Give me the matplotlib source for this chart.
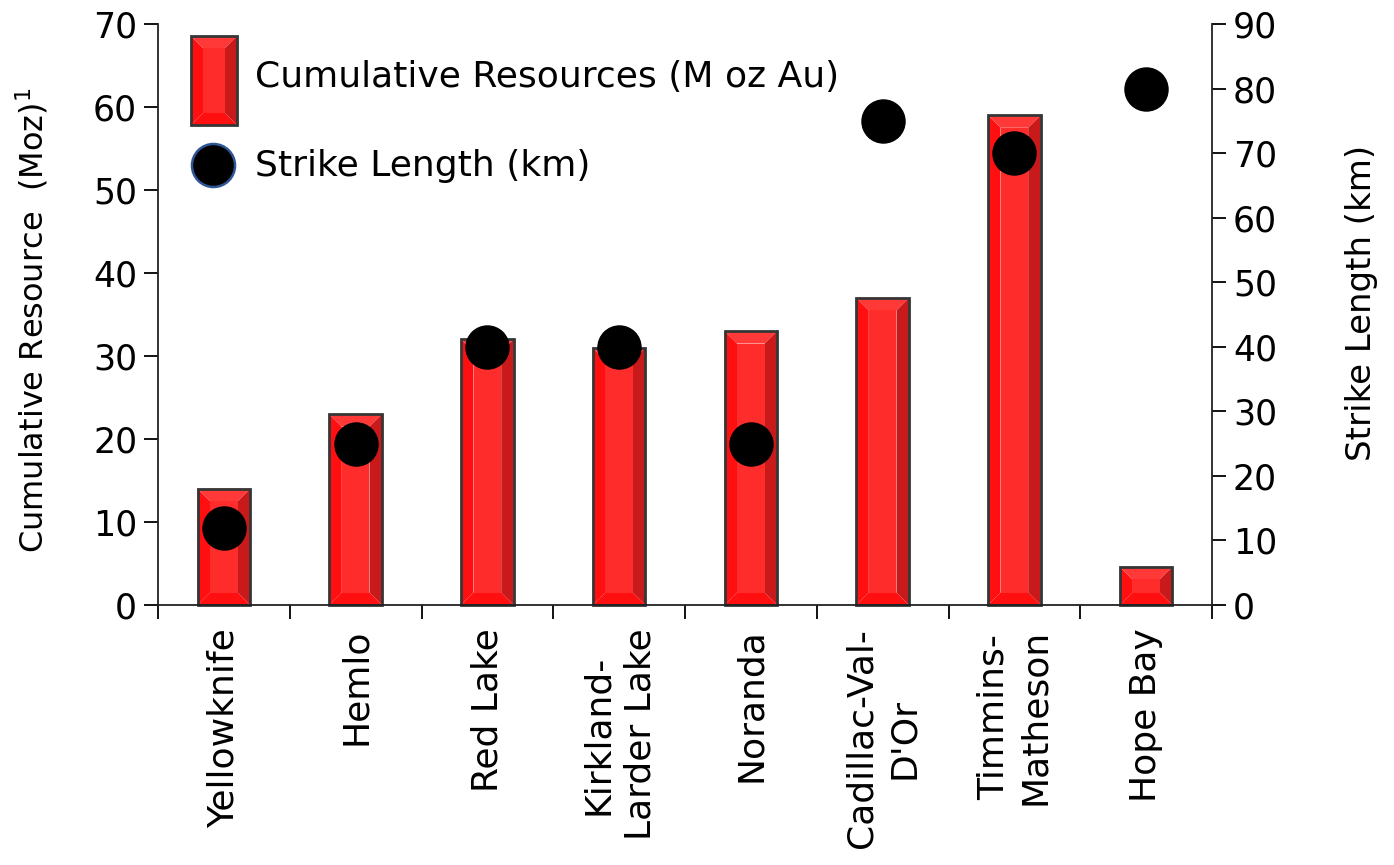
import matplotlib
matplotlib.use("Agg")
import matplotlib.pyplot as plt
from matplotlib.patches import Polygon
import numpy as np

# ---- data ----
camps = ["Yellowknife", "Hemlo", "Red Lake", "Kirkland-\nLarder Lake", "Noranda",
         "Cadillac-Val-\nD'Or", "Timmins-\nMatheson", "Hope Bay"]
resources = [14, 23, 32, 31, 33, 37, 59, 4.6]        # M oz Au (left axis)
strike_km = [12, 25, 40, 40, 25, 75, 70, 80]          # km (right axis)
left_ticks = [0, 10, 20, 30, 40, 50, 60, 70]
right_ticks = [0, 10, 20, 30, 40, 50, 60, 70, 80, 90]

plt.rcParams['font.family'] = ['DejaVu Sans']
FS_TICK = 25
FS_XT = 26
FS_LEG = 26
FS_YL = 23
FS_YR = 24.5

W, H = 1394, 865
fig = plt.figure(figsize=(W / 100, H / 100), dpi=100)
L, R, T, B = 158, 1212, 24, 605
ax = fig.add_axes([L / W, 1 - B / H, (R - L) / W, (B - T) / H])
ax2 = ax.twinx()

C_OUT = '#FF0F0F'
C_TOP = '#FF3838'
C_RIGHT = '#C81A1A'
C_MID = '#FF2C2C'
C_EDGE = '#363636'


def bevel(axis, x0, x1, y0, y1, bx, by, transform, z=2):
    by = min(by, (y1 - y0) / 2.2)
    pts = dict(
        left=[(x0, y0), (x0 + bx, y0 + by), (x0 + bx, y1 - by), (x0, y1)],
        bottom=[(x0, y0), (x1, y0), (x1 - bx, y0 + by), (x0 + bx, y0 + by)],
        top=[(x0, y1), (x0 + bx, y1 - by), (x1 - bx, y1 - by), (x1, y1)],
        right=[(x1, y0), (x1, y1), (x1 - bx, y1 - by), (x1 - bx, y0 + by)],
        mid=[(x0 + bx, y0 + by), (x1 - bx, y0 + by), (x1 - bx, y1 - by), (x0 + bx, y1 - by)],
    )
    cols = dict(left=C_OUT, bottom=C_OUT, top=C_TOP, right=C_RIGHT, mid=C_MID)
    for k, p in pts.items():
        axis.add_patch(Polygon(p, closed=True, facecolor=cols[k], edgecolor='none',
                               transform=transform, zorder=z, clip_on=False))
    axis.add_patch(Polygon([(x0, y0), (x1, y0), (x1, y1), (x0, y1)], closed=True,
                           facecolor='none', edgecolor=C_EDGE, linewidth=2,
                           transform=transform, zorder=z + 0.5, clip_on=False))


x = np.arange(len(camps))
bw = 0.4
bars = ax.bar(x, resources, width=bw, color='none', edgecolor='none')
for rect in bars:
    x0 = rect.get_x()
    bevel(ax, x0, x0 + rect.get_width(), 0, rect.get_height(), 0.095, 1.5, ax.transData)

ax.set_xlim(-0.5, len(camps) - 0.5)
ax.set_ylim(0, 70)
ax2.set_ylim(0, 90)

ax2.plot(x, strike_km, 'o', ms=31, color='black', zorder=5, clip_on=False)

# axes styling
for a in (ax, ax2):
    a.spines['top'].set_visible(False)
ax.spines['right'].set_visible(False)
ax2.spines['left'].set_visible(False)
ax2.spines['bottom'].set_visible(False)
for s in ('left', 'bottom'):
    ax.spines[s].set_color('#222222')
    ax.spines[s].set_linewidth(1.3)
ax2.spines['right'].set_color('#222222')
ax2.spines['right'].set_linewidth(1.3)

ax.set_yticks(left_ticks)
ax2.set_yticks(right_ticks)
ax.tick_params(axis='y', direction='out', length=10, width=1.3, labelsize=FS_TICK, pad=5)
ax2.tick_params(axis='y', direction='out', length=10, width=1.3, labelsize=FS_TICK, pad=5)

ax.set_xticks(np.arange(len(camps) + 1) - 0.5)
ax.set_xticklabels([])
ax.tick_params(axis='x', which='major', direction='out', length=10, width=1.3)
ax.set_xticks(x, minor=True)
ax.set_xticklabels(camps, minor=True, rotation=90, fontsize=FS_XT, va='top', ha='center',
                   multialignment='center', linespacing=1.3)
ax.tick_params(axis='x', which='minor', length=0, pad=17)

ax.set_ylabel("Cumulative Resource  (Moz)$^{1}$", fontsize=FS_YL)
ax.yaxis.set_label_coords(-0.102, 0.49)
ax2.set_ylabel("Strike Length (km)", fontsize=FS_YR)
ax2.yaxis.set_label_coords(1.126, 0.52)

# legend (drawn manually)
def px_ax(px, py):
    return (px - L) / (R - L), (B - py) / (B - T)

lx0, ly0 = px_ax(191, 125)
lx1, ly1 = px_ax(237, 36)
bevel(ax2, lx0, lx1, ly0, ly1, 12 / (R - L), 12 / (B - T), ax2.transAxes, z=6)
cx, cy = px_ax(213, 165)
ax2.plot([cx], [cy], 'o', ms=31, mfc='black', mec='#2F5597', mew=1.8,
         transform=ax2.transAxes, clip_on=False, zorder=6)
tx, ty1 = px_ax(255, 77)
_, ty2 = px_ax(255, 166)
ax2.text(tx, ty1, "Cumulative Resources (M oz Au)", transform=ax2.transAxes,
         fontsize=FS_LEG, va='center', ha='left', zorder=7)
ax2.text(tx, ty2, "Strike Length (km)", transform=ax2.transAxes,
         fontsize=FS_LEG, va='center', ha='left', zorder=7)

fig.savefig("out.png", dpi=100)
